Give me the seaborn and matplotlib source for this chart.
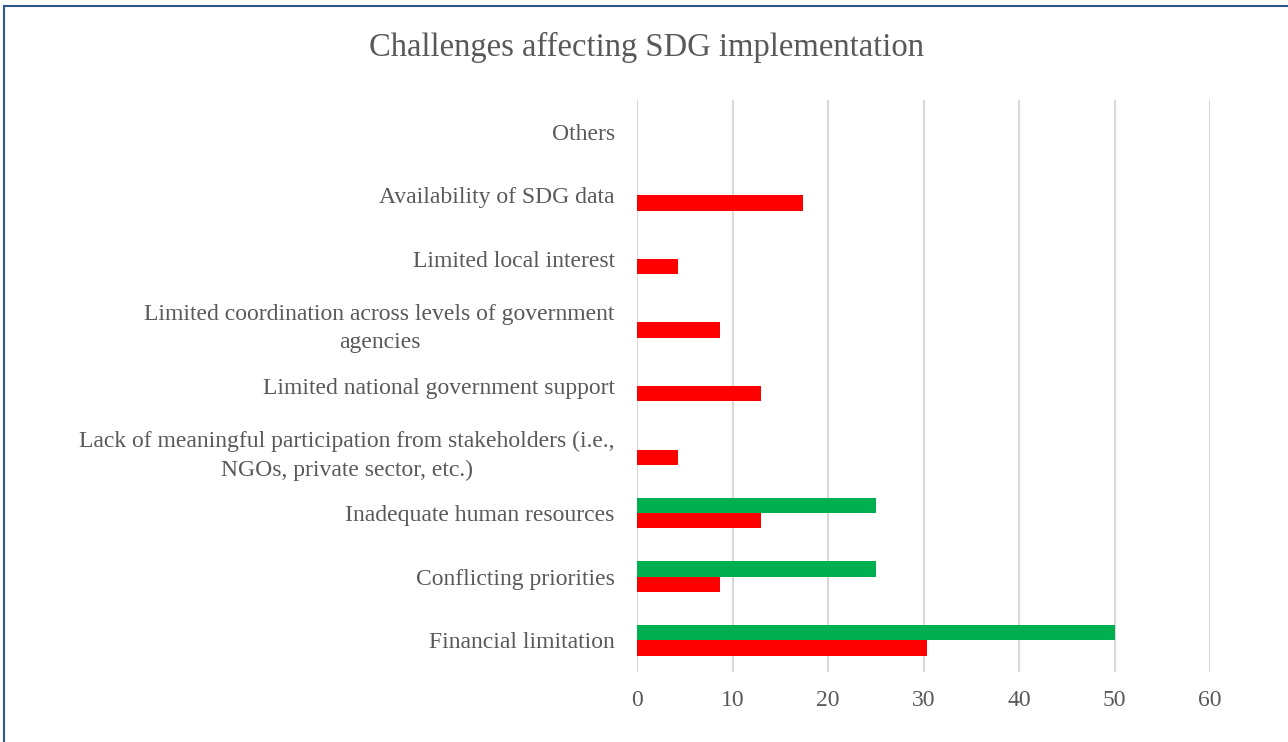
import matplotlib.pyplot as plt
import matplotlib.patches as mpatches
import pandas as pd
import seaborn as sns

# Data (percent of respondents), categories top to bottom
categories = [
    'Others',
    'Availability of SDG data',
    'Limited local interest',
    'Limited coordination across levels of government\nagencies',
    'Limited national government support',
    'Lack of meaningful participation from stakeholders (i.e.,\nNGOs, private sector, etc.)',
    'Inadequate human resources',
    'Conflicting priorities',
    'Financial limitation',
]
green_values = [0, 0, 0, 0, 0, 0, 25.0, 25.0, 50.0]
red_values = [0, 17.4, 4.3, 8.7, 13.0, 4.3, 13.0, 8.7, 30.4]
series_names = ['Series 1', 'Series 2']
x_ticks = [0, 10, 20, 30, 40, 50, 60]

df = pd.DataFrame({
    'category': categories * 2,
    'value': green_values + red_values,
    'series': [series_names[0]] * len(categories) + [series_names[1]] * len(categories),
})

sns.set_style('white')
plt.rcParams['font.family'] = ['Liberation Serif', 'DejaVu Serif']
text_color = '#595959'

fig = plt.figure(figsize=(12.88, 7.42), dpi=100)
ax = fig.add_axes([0.4946, 0.0943, 0.4449, 0.7709])

sns.barplot(data=df, y='category', x='value', hue='series', order=categories,
            hue_order=series_names, palette=['#00B050', '#FF0000'],
            orient='h', width=0.48, dodge=True, ax=ax, legend=False,
            saturation=1, linewidth=0)

ax.set_xlim(0, 60)
ax.set_ylim(len(categories) - 0.5, -0.5)
ax.set_xticks(x_ticks)
ax.xaxis.grid(True, color='#D9D9D9', linewidth=1.5)
ax.set_axisbelow(True)
sns.despine(ax=ax, left=True, bottom=True)
ax.set_xlabel('')
ax.set_ylabel('')
ax.tick_params(axis='y', length=0, pad=16, labelsize=17, labelcolor=text_color)
ax.tick_params(axis='x', length=0, pad=13, labelsize=17, labelcolor=text_color)
for lbl in ax.get_yticklabels():
    lbl.set_multialignment('center')
    lbl.set_linespacing(1.45)

fig.suptitle('Challenges affecting SDG implementation', x=0.502, y=1 - 47 / 742,
             va='center', fontsize=23.5, color=text_color)

# outer chart frame
frame = mpatches.Rectangle((4 / 1288, -0.1), 2, 1.1 - 6 / 742, transform=fig.transFigure,
                           fill=False, edgecolor='#2E5A8A', linewidth=1.5)
fig.patches.append(frame)

fig.savefig('out.png', dpi=100)
